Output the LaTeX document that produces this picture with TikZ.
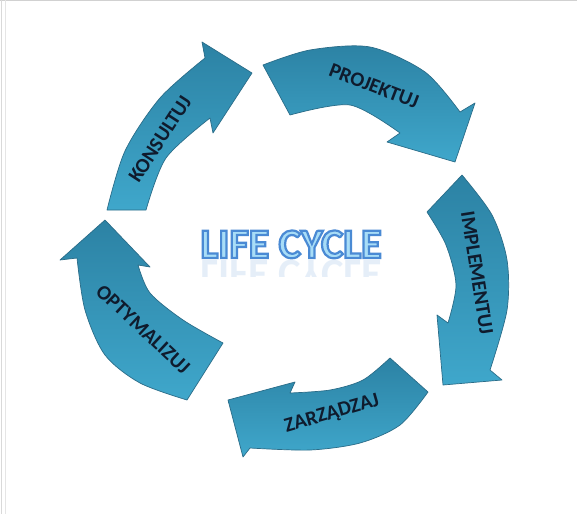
\documentclass[tikz,border=0pt]{standalone}
\usepackage{fontspec}
\newfontfamily\cyclefont{Carlito}
\usepackage{tikz}
\definecolor{cyclenavy}{HTML}{0F1B2D}
\definecolor{cycledark}{HTML}{2C82A4}
\definecolor{cyclelight}{HTML}{3FA7CB}
\definecolor{cycleedge}{HTML}{2A6C88}
\definecolor{titleedge}{HTML}{4A8AD4}
\definecolor{titlefill}{HTML}{A8DDF7}
\newcommand\outlinetext[1]{\special{pdf:literal direct 0.29 0.54 0.83 RG 2.2 w 2 Tr}#1\special{pdf:literal direct 0 Tr}}

\begin{document}
\begin{tikzpicture}[
  x=1pt,y=1pt,
  cyclearrow/.style={draw=cycleedge,line width=0.7pt,line join=round,
    top color=cycledark,bottom color=cyclelight},
  steplabel/.style={font=\cyclefont\fontsize{20.5}{24}\selectfont\bfseries,
    text=cyclenavy,inner sep=0pt},
  titletext/.style={font=\cyclefont\fontsize{42}{48}\selectfont\bfseries,
    inner sep=0pt,anchor=base}
]
\useasboundingbox (0,0) rectangle (577,-514);
\fill[white] (0,0) rectangle (577,-514);
\draw[black!18,line width=1pt] (0,-0.5) -- (577,-0.5);
\draw[black!15,line width=1pt] (1,0) -- (1,-514);
\draw[black!10,line width=1pt] (5,0) -- (5,-514);

\draw[cyclearrow] plot[smooth] coordinates {(107,-210) (125,-151) (160,-98) (205,-58)}
  -- (202,-42) -- (252,-73) -- (213,-133)
  -- plot[smooth] coordinates {(210,-118) (166,-158) (146,-210)} -- cycle;
\draw[cyclearrow] plot[smooth] coordinates {(263,-65) (310,-50) (370,-47) (425,-72) (460,-112)}
  -- (475,-103) -- (455,-162) -- (387,-142)
  -- plot[smooth] coordinates {(400,-133) (350,-105) (290,-115)} -- cycle;
\draw[cyclearrow] plot[smooth] coordinates {(462,-175) (492,-215) (507,-260) (507,-310) (490,-370)}
  -- (502,-380) -- (443,-385) -- (437,-315)
  -- plot[smooth] coordinates {(448,-323) (456,-285) (446,-245) (427,-212)} -- cycle;
\draw[cyclearrow] plot[smooth] coordinates {(428,-392) (400,-425) (360,-443) (310,-450) (250,-448)}
  -- (243,-457) -- (228,-400) -- (295,-382)
  -- plot[smooth] coordinates {(290,-393) (330,-390) (363,-380) (390,-358)} -- cycle;
\draw[cyclearrow] plot[smooth] coordinates {(187,-400) (140,-383) (105,-355) (85,-310) (77,-258)}
  -- (60,-260) -- (105,-220) -- (150,-267)
  -- plot[smooth] coordinates {(138,-265) (150,-293) (183,-320) (223,-343)} -- cycle;

\node[steplabel,rotate=57] (konsultuj) at (160,-139) {KONSULTUJ};
\node[steplabel,rotate=-21] (projektuj) at (374,-86) {PROJEKTUJ};
\node[steplabel,rotate=-81] (implementuj) at (477,-273) {IMPLEMENTUJ};
\node[steplabel,rotate=16] (zarzadzaj) at (332,-414) {ZARZĄDZAJ};
\node[steplabel,rotate=-43] (optymalizuj) at (143,-329) {OPTYMALIZUJ};

\begin{scope}
  \clip (180,-260) rectangle (400,-276);
  \node[titletext,text=titleedge,opacity=0.14,yscale=-1] (reflection) at (291,-260) {LIFE CYCLE};
\end{scope}
\node[titletext,text=titlefill] (title) at (291,-258) {\outlinetext{LIFE CYCLE}};
\end{tikzpicture}
\end{document}
